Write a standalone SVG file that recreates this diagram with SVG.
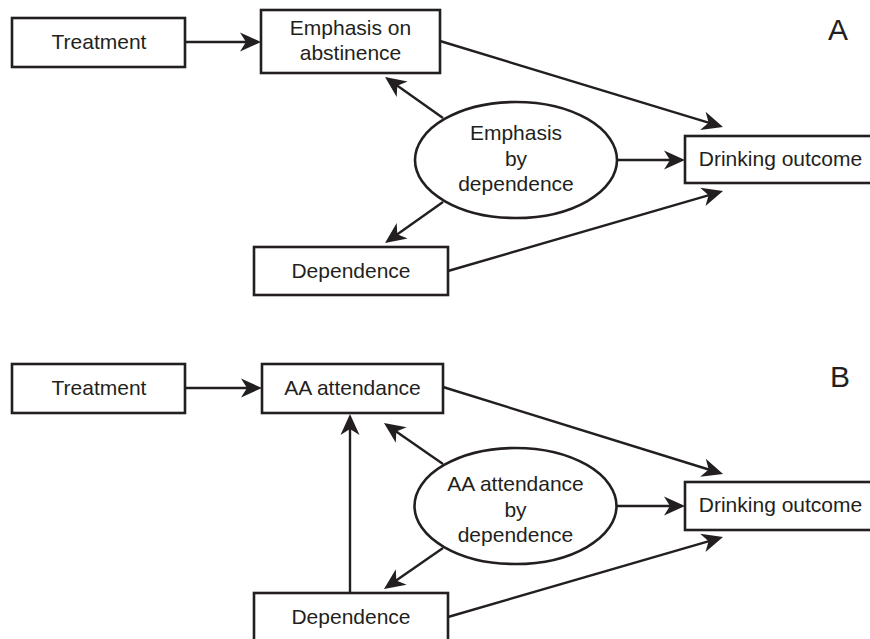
<svg xmlns="http://www.w3.org/2000/svg" width="870" height="639" viewBox="0 0 870 639">
<style>
.box{fill:#fff;stroke:#231f20;stroke-width:2.6}
.t{font-family:"Liberation Sans",Arial,sans-serif;font-size:21px;fill:#231f20;text-anchor:middle}
.lbl{font-family:"Liberation Sans",Arial,sans-serif;font-size:30px;fill:#231f20;text-anchor:middle}
.c line{stroke:#231f20;stroke-width:2.4;marker-end:url(#ah)}
</style>
<defs>
<marker id="ah" markerUnits="userSpaceOnUse" viewBox="-22 -11 24 22" markerWidth="24" markerHeight="22" refX="-10" refY="0" orient="auto">
<path d="M0,0 L-21,-9.5 L-15,0 L-21,9.5 Z" fill="#231f20"/>
</marker>
</defs>
<rect width="870" height="639" fill="#fff"/>
<g id="panelA">
<g id="a-treatment"><rect class="box" x="12" y="18" width="173" height="49"/><text class="t" x="99" y="49">Treatment</text></g>
<g id="a-emphasis"><rect class="box" x="261" y="10" width="179" height="63"/><text class="t" x="350.5" y="35">Emphasis on</text><text class="t" x="350.5" y="60">abstinence</text></g>
<g id="a-interaction"><ellipse class="box" cx="516" cy="160" rx="101" ry="58"/><text class="t" x="516" y="140">Emphasis</text><text class="t" x="516" y="165.5">by</text><text class="t" x="516" y="191">dependence</text></g>
<g id="a-drinking"><rect class="box" x="685" y="136" width="195" height="47"/><text class="t" x="780.5" y="166">Drinking outcome</text></g>
<g id="a-dependence"><rect class="box" x="254" y="247" width="194" height="48"/><text class="t" x="351" y="278">Dependence</text></g>
<text id="label-a" class="lbl" x="838" y="40">A</text>
</g>
<g id="panelB">
<g id="b-treatment"><rect class="box" x="12" y="364" width="173" height="49"/><text class="t" x="99" y="395">Treatment</text></g>
<g id="b-aa"><rect class="box" x="262" y="364" width="181" height="49"/><text class="t" x="352.5" y="395">AA attendance</text></g>
<g id="b-interaction"><ellipse class="box" cx="515.5" cy="506" rx="101" ry="58"/><text class="t" x="515.5" y="491">AA attendance</text><text class="t" x="515.5" y="516.5">by</text><text class="t" x="515.5" y="542">dependence</text></g>
<g id="b-drinking"><rect class="box" x="685" y="482" width="195" height="48"/><text class="t" x="780.5" y="512">Drinking outcome</text></g>
<g id="b-dependence"><rect class="box" x="254" y="593" width="194" height="50"/><text class="t" x="351" y="624">Dependence</text></g>
<text id="label-b" class="lbl" x="840" y="387">B</text>
</g>
<g id="connectors" class="c">
<line x1="185" y1="42" x2="251" y2="42"/>
<line x1="440" y1="41" x2="713.4" y2="124.1"/>
<line x1="443" y1="118" x2="393.2" y2="82.8"/>
<line x1="617" y1="160" x2="675" y2="160"/>
<line x1="443" y1="202" x2="393.2" y2="237.2"/>
<line x1="448" y1="271" x2="713.4" y2="193.8"/>
<line x1="185" y1="388" x2="252" y2="388"/>
<line x1="443" y1="387" x2="713.5" y2="471"/>
<line x1="443" y1="464" x2="392.2" y2="428.7"/>
<line x1="616.5" y1="506" x2="675" y2="506"/>
<line x1="443" y1="548" x2="392.2" y2="583.3"/>
<line x1="448" y1="617" x2="713.4" y2="539.8"/>
<line x1="350" y1="593" x2="350" y2="424"/>
</g>
</svg>
